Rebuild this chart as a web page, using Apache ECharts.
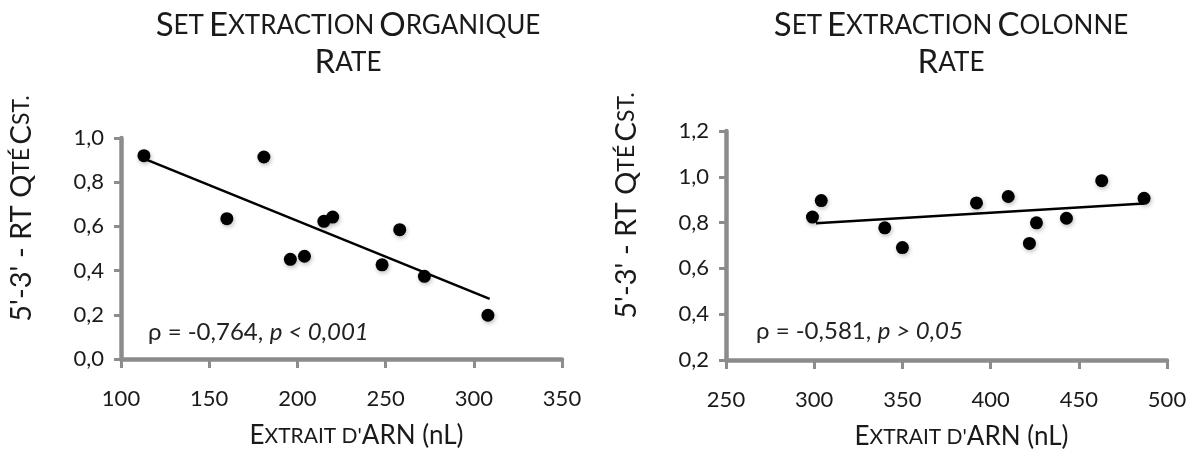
<!DOCTYPE html>
<html>
<head>
<meta charset="utf-8">
<script src="https://cdn.jsdelivr.net/npm/echarts@6/dist/echarts.min.js"></script>
<style>
html,body{margin:0;padding:0;background:#fff;}
#chart{width:1194px;height:461px;}
</style>
</head>
<body>
<div id="chart"></div>
<script>
// ---- Data ----
const orgX = [113, 160, 181, 196, 204, 215, 220, 248, 258, 272, 308];
const orgY = [0.920, 0.635, 0.914, 0.451, 0.465, 0.623, 0.642, 0.426, 0.585, 0.374, 0.198];
const orgTrendX = [113, 309];
const orgTrendY = [0.907, 0.272];

const colX = [299, 304, 340, 350, 392, 410, 422, 426, 443, 463, 487];
const colY = [0.824, 0.896, 0.777, 0.691, 0.886, 0.914, 0.709, 0.799, 0.819, 0.983, 0.906];
const colTrendX = [301, 487];
const colTrendY = [0.797, 0.883];

const orgXTicks = [100, 350, 50];   // min, max, interval
const orgYTicks = [0.0, 1.0, 0.2];
const colXTicks = [250, 500, 50];
const colYTicks = [0.2, 1.2, 0.2];

const orgStat = ['ρ = -0,764,', 'p < 0,001'];
const colStat = ['ρ = -0,581,', 'p > 0,05'];

// ---- Helpers ----
const pairs = (xs, ys) => xs.map((x, i) => [x, ys[i]]);
const FONT = 'Lato, "Open Sans", sans-serif';
const TXT = '#1a1a1a';
const AXC = '#8c8c8c';

const titleRich = {
  b: { fontFamily: FONT, fontSize: 33, fontWeight: 'normal', color: TXT, lineHeight: 37 },
  s: { fontFamily: FONT, fontSize: 26, fontWeight: 'normal', color: TXT, lineHeight: 37 }
};
const nameRich = {
  b: { fontFamily: FONT, fontSize: 26, color: TXT },
  s: { fontFamily: FONT, fontSize: 21, color: TXT }
};
const yNameRich = {
  b: { fontFamily: FONT, fontSize: 29, color: TXT },
  s: { fontFamily: FONT, fontSize: 23, color: TXT }
};

function xAxisCfg(idx, t) {
  return {
    type: 'value', gridIndex: idx, min: t[0], max: t[1], interval: t[2],
    splitLine: { show: false },
    axisLine: { show: true, onZero: false, lineStyle: { color: AXC, width: 4.5 } },
    axisTick: { show: true, length: 9, lineStyle: { color: AXC, width: 3 } },
    axisLabel: { margin: 29, fontFamily: FONT, fontSize: 22, color: TXT },
    name: "{b|E}{s|XTRAIT D'}{b|ARN (nL)}",
    nameLocation: 'middle', nameGap: 64,
    nameTextStyle: { rich: nameRich, padding: [0, 0, 0, 30] }
  };
}
function yAxisCfg(idx, t) {
  return {
    type: 'value', gridIndex: idx, min: t[0], max: t[1], interval: t[2],
    splitLine: { show: false },
    axisLine: { show: true, onZero: false, lineStyle: { color: AXC, width: 4.5 } },
    axisTick: { show: true, length: 7, lineStyle: { color: AXC, width: 3 } },
    axisLabel: {
      margin: 17, fontFamily: FONT, fontSize: 22, color: TXT,
      formatter: v => v.toFixed(1).replace('.', ',')
    },
    name: "{b|5'-3' - RT Q}{s|TÉ} {b|C}{s|ST.}",
    nameLocation: 'middle', nameGap: 85, nameRotate: 90,
    nameTextStyle: { rich: yNameRich, padding: [0, 0, 0, 80] }
  };
}
function scatterSeries(idx, xs, ys) {
  return {
    type: 'scatter', xAxisIndex: idx, yAxisIndex: idx,
    data: pairs(xs, ys), symbol: 'circle', symbolSize: 13,
    itemStyle: { color: '#000', opacity: 1, shadowColor: 'rgba(0,0,0,0.25)', shadowBlur: 4, shadowOffsetX: 1, shadowOffsetY: 2 },
    z: 3
  };
}
function trendSeries(idx, xs, ys) {
  return {
    type: 'line', xAxisIndex: idx, yAxisIndex: idx,
    data: pairs(xs, ys), showSymbol: false, symbol: 'none',
    lineStyle: { color: '#000', width: 2.5 }, z: 2, silent: true
  };
}
function statText(left, top, s) {
  return {
    type: 'text', left: left, top: top,
    style: {
      text: '{n|' + s[0] + '}  {i|' + s[1] + '}',
      rich: {
        n: { fontFamily: FONT, fontSize: 24, fill: '#222' },
        i: { fontFamily: FONT, fontSize: 24, fontStyle: 'italic', fill: '#222' }
      }
    }
  };
}

const chart = echarts.init(document.getElementById('chart'), null, { renderer: 'canvas' });
chart.setOption({
  backgroundColor: '#fff',
  animation: false,
  title: [
    { text: '{b|S}{s|ET} {b|E}{s|XTRACTION} {b|O}{s|RGANIQUE}\n{b|R}{s|ATE}',
      left: 343, top: 2, textAlign: 'center', textStyle: { fontWeight: 'normal', rich: titleRich } },
    { text: '{b|S}{s|ET} {b|E}{s|XTRACTION} {b|C}{s|OLONNE}\n{b|R}{s|ATE}',
      left: 946, top: 2, textAlign: 'center', textStyle: { fontWeight: 'normal', rich: titleRich } }
  ],
  grid: [
    { left: 121, top: 138, width: 441, height: 221 },
    { left: 726, top: 131, width: 441, height: 229 }
  ],
  xAxis: [xAxisCfg(0, orgXTicks), xAxisCfg(1, colXTicks)],
  yAxis: [yAxisCfg(0, orgYTicks), yAxisCfg(1, colYTicks)],
  series: [
    trendSeries(0, orgTrendX, orgTrendY),
    scatterSeries(0, orgX, orgY),
    trendSeries(1, colTrendX, colTrendY),
    scatterSeries(1, colX, colY)
  ],
  graphic: [
    statText(148, 320, orgStat),
    statText(756, 319, colStat)
  ]
});
</script>
</body>
</html>
